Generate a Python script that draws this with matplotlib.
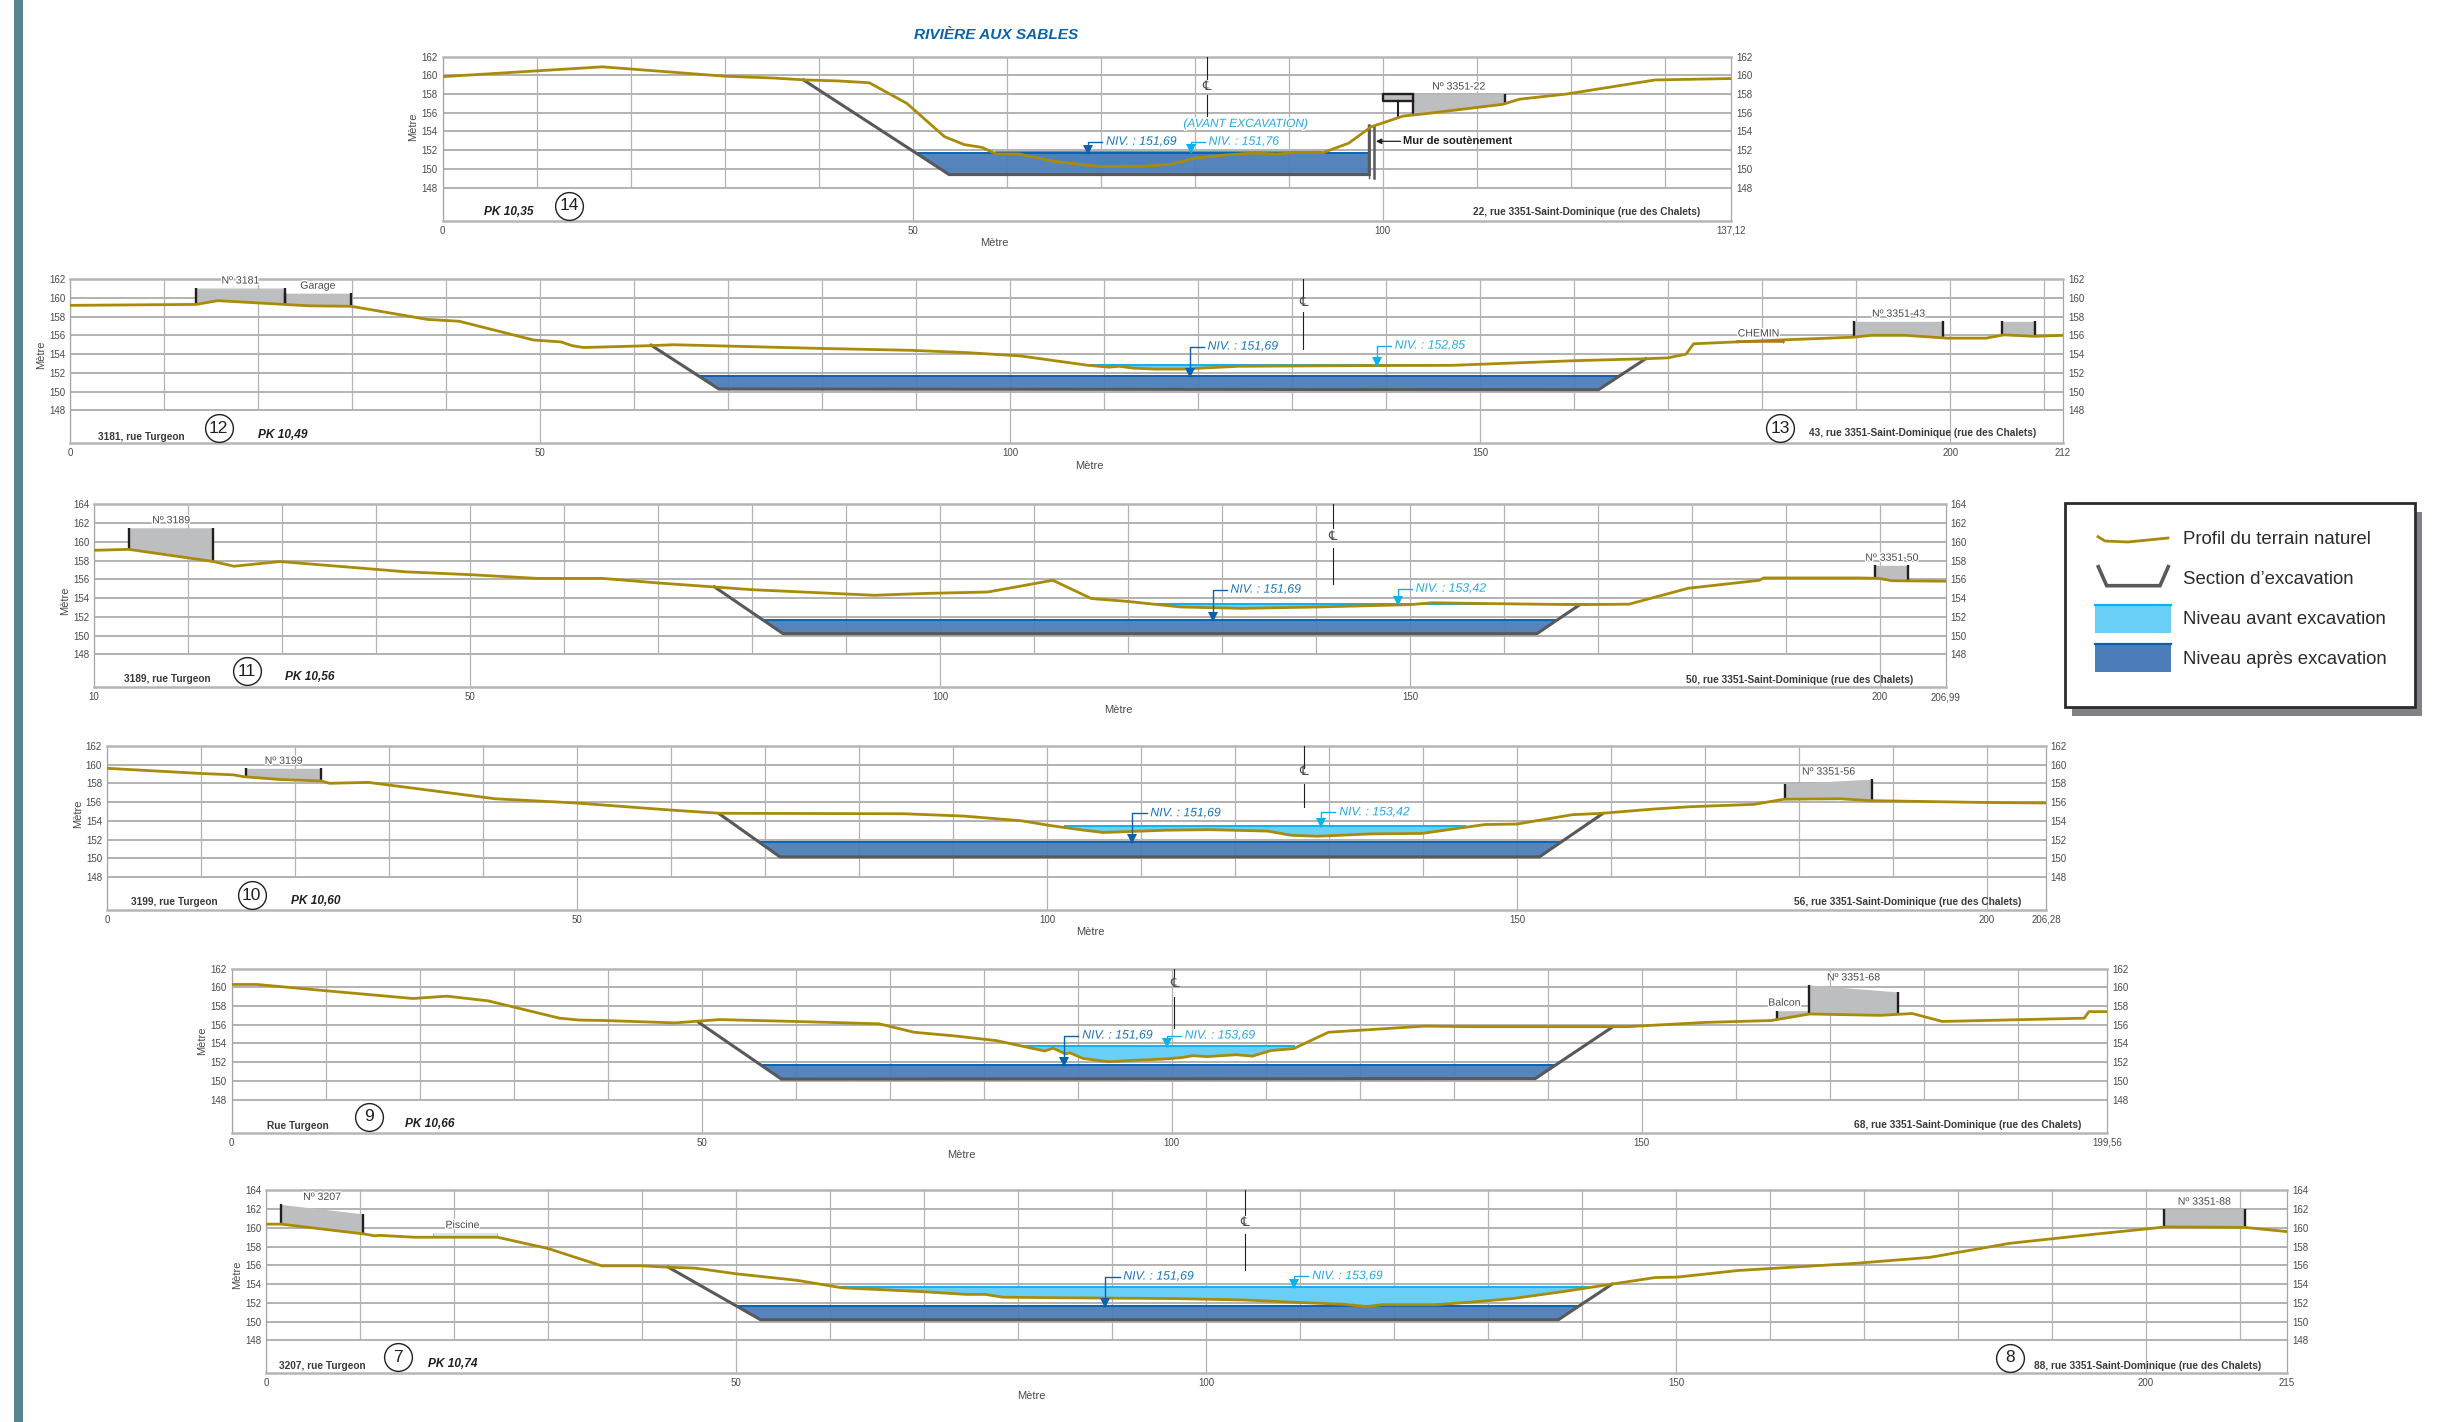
import numpy as np
import matplotlib
matplotlib.use("Agg")
import matplotlib.pyplot as plt
from matplotlib.patches import Rectangle
import matplotlib.patheffects as pe

plt.rcParams['font.family'] = ['Liberation Sans', 'DejaVu Sans']

# PK 10,35 (14)
pk14_x = [0, 17, 30, 35.3, 38.6, 42, 45.4, 49.4, 53.4, 55.5, 57.4, 58.9, 61.3, 65.1, 70, 74.8, 77.5, 80, 83.4, 86.3,
          88.7, 90.7, 93.7, 96.4, 98.8, 102.2, 104.6, 112.8, 114.6, 119.6, 129, 137.12]
pk14_y = [159.85, 160.9, 159.9, 159.7, 159.5, 159.4, 159.2, 157, 153.45, 152.6, 152.3, 151.6, 151.6, 150.8, 150.25,
          150.3, 150.5, 151.15, 151.5, 151.7, 151.6, 151.75, 151.75, 152.75, 154.5, 155.65, 155.9, 156.9, 157.45,
          158, 159.5, 159.65]
pk14_exc_x = [38.4, 53.9, 98.6, 98.6]
pk14_exc_y = [159.5, 149.4, 149.4, 154.6]

# PK 10,49 (12-13)
pk12_x = [0, 13.4, 15.7, 22.8, 25.4, 29.9, 38, 41.4, 49.3, 52.2, 53.4, 54.6, 61.8, 64.2, 80, 89.5, 95.5, 101.1, 108.3,
          110.5, 111.6, 113.1, 115.4, 118.4, 124.3, 134, 147, 160.2, 167.6, 170, 171.9, 172.7, 181.8, 189.6, 191.6,
          195.2, 199.7, 203.8, 205.7, 209, 212]
pk12_y = [159.2, 159.3, 159.7, 159.3, 159.15, 159.1, 157.7, 157.5, 155.5, 155.3, 154.9, 154.7, 154.9, 155, 154.6,
          154.4, 154.15, 153.8, 152.8, 152.6, 152.7, 152.5, 152.4, 152.4, 152.7, 152.75, 152.8, 153.3, 153.5, 153.6,
          154, 155.1, 155.5, 155.8, 156, 156, 155.7, 155.7, 156.05, 155.9, 156]
pk12_exc_x = [61.8, 69, 162.6, 167.6]
pk12_exc_y = [154.95, 150.27, 150.2, 153.5]

# PK 10,56 (11)
pk11_x = [10, 13.7, 22.7, 24.9, 29.8, 39.6, 43.2, 50, 57.2, 64.1, 70.2, 75.8, 79.9, 93, 98.6, 105.1, 112, 116.1, 119.9,
          125.6, 132.1, 140.2, 150, 152.4, 159.2, 168, 173.3, 179.6, 187.2, 187.6, 197.9, 199.9, 201.3, 206.99]
pk11_y = [159.1, 159.2, 157.9, 157.4, 157.9, 157.1, 156.8, 156.5, 156.1, 156.1, 155.6, 155.2, 154.9, 154.3, 154.5,
          154.65, 155.9, 153.95, 153.65, 153.05, 152.9, 153.05, 153.3, 153.5, 153.4, 153.3, 153.35, 155.05, 155.9,
          156.15, 156.15, 156.1, 155.85, 155.8]
pk11_exc_x = [76, 83.3, 163.5, 168]
pk11_exc_y = [155.2, 150.2, 150.2, 153.25]

# PK 10,60 (10)
pk10_x = [0, 10, 13.5, 14.6, 18.5, 22.8, 23.7, 27.8, 41.3, 49.9, 59.9, 65.2, 84.8, 91.2, 97.3, 100.3, 103.9, 106, 112.8,
          117.4, 123.5, 126, 128.8, 134.5, 139.9, 146.6, 150, 155.9, 159.1, 164.5, 168.4, 175.2, 178.4, 184.4, 187.6,
          200.1, 206.28]
pk10_y = [159.6, 159.05, 158.9, 158.7, 158.4, 158.25, 158, 158.1, 156.35, 155.9, 155.15, 154.8, 154.75, 154.5, 154,
          153.5, 153, 152.75, 153, 153.05, 152.9, 152.45, 152.35, 152.6, 152.65, 153.6, 153.65, 154.65, 154.8, 155.25,
          155.5, 155.75, 156.3, 156.35, 156.15, 155.95, 155.9]
pk10_exc_x = [65.2, 71.6, 152.4, 159.1]
pk10_exc_y = [154.7, 150.15, 150.15, 154.75]

# PK 10,66 (9)
pk9_x = [0, 2.7, 9.8, 19.3, 22.9, 27.3, 34.9, 37, 39.7, 47.2, 51.9, 60, 68.9, 72.6, 77, 81.4, 86.5, 87.4, 88.7, 89.2,
         90.6, 93.3, 96, 99.4, 101.1, 102.3, 103.8, 106.9, 108.6, 110.6, 113, 116.7, 126.9, 131.6, 148.6, 156.8,
         163.8, 167.9, 175.4, 178.8, 182, 197.1, 197.6, 199.56]
pk9_y = [160.3, 160.3, 159.65, 158.8, 159.05, 158.55, 156.7, 156.5, 156.45, 156.2, 156.55, 156.35, 156.1, 155.2, 154.8,
         154.3, 153.2, 153.5, 152.9, 153, 152.4, 152.05, 152.2, 152.35, 152.5, 152.7, 152.6, 152.8, 152.65, 153.25,
         153.45, 155.2, 155.85, 155.8, 155.8, 156.25, 156.45, 157.15, 157, 157.2, 156.35, 156.7, 157.4, 157.4]
pk9_exc_x = [49.7, 58.5, 138.7, 146.9]
pk9_exc_y = [156.25, 150.2, 150.25, 155.75]

# PK 10,74 (7-8)
pk7_x = [0, 1.6, 10.4, 11.6, 12.1, 15.8, 24.6, 30, 35.7, 39.9, 42.9, 45.7, 50, 56.5, 61.3, 69.7, 74.5, 76.5, 78.4, 83.3,
         96.9, 104.1, 109.5, 114.6, 117.1, 118.7, 124.4, 127.9, 132.6, 138, 143.2, 147.8, 150.2, 156.6, 168.9, 177,
         185.5, 194.3, 202.1, 210.5, 215]
pk7_y = [160.4, 160.4, 159.35, 159.15, 159.2, 159, 159, 157.8, 155.95, 155.95, 155.8, 155.7, 155.1, 154.4, 153.6, 153.2,
         152.9, 152.9, 152.6, 152.55, 152.45, 152.3, 152.05, 151.85, 151.6, 151.8, 151.8, 152.05, 152.45, 153.2, 154,
         154.7, 154.75, 155.45, 156.2, 156.85, 158.35, 159.3, 160.1, 160.05, 159.6]
pk7_exc_x = [42.8, 52.6, 137.5, 143.2]
pk7_exc_y = [155.8, 150.2, 150.2, 154]

# niveaux
niv_apres = 151.69
niv_avant = [151.76, 152.85, 153.42, 153.42, 153.69, 153.69]

# (gauche, droite, haut gauche, haut droite, nom)
pk14_houses = [(103.2, 113, 158, 158, "Nº 3351-22")]
pk12_houses = [(13.4, 22.8, 161.05, 161.05, "Nº 3181"), (22.8, 29.9, 160.5, 160.5, "Garage"),
               (189.8, 199.2, 157.5, 157.5, "Nº 3351-43"), (205.5, 209, 157.5, 157.5, "")]
pk11_houses = [(13.7, 22.7, 161.5, 161.5, "Nº 3189"), (199.5, 203, 157.5, 157.5, "Nº 3351-50")]
pk10_houses = [(14.8, 22.8, 159.6, 159.6, "Nº 3199"), (178.5, 187.8, 157.95, 158.45, "Nº 3351-56")]
pk9_houses = [(167.8, 177.3, 160.25, 159.5, "Nº 3351-68")]
pk7_houses = [(1.6, 10.3, 162.5, 161.5, "Nº 3207"), (201.9, 210.5, 162, 162, "Nº 3351-88")]

C_TERRAIN = '#a98b0a'
C_EXC = '#58595b'
C_AVANT = '#69cff7'
C_AVANT_L = '#0db1ee'
C_APRES = '#4d7db9'
C_APRES_L = '#0b62ac'
C_HOUSE = '#bcbec0'
C_TXT = '#4a4a4c'

W, H = 2452, 1422
PX_X = 9.4
PX_Y = 9.37

fig = plt.figure(figsize=(W / 100, H / 100), dpi=100, facecolor='white')

over = fig.add_axes([0, 0, 1, 1], zorder=0)
over.set_xlim(0, W)
over.set_ylim(H, 0)
over.axis('off')


def halo(t):
    t.set_path_effects([pe.withStroke(linewidth=2, foreground='white')])
    return t


def panel(x0_px, y148_px, xmin, xmax, ytop, xticks, x, y, exc_x, exc_y, level, lev_from, lev_to, ylab_y, xlab_x):
    left = x0_px
    bottom = y148_px + 33
    top = y148_px - (ytop - 148) * PX_Y
    width = (xmax - xmin) * PX_X
    ax = fig.add_axes([left / W, 1 - bottom / H, width / W, (bottom - top) / H], zorder=2)
    ax.patch.set_alpha(0)
    ax.set_xlim(xmin, xmax)
    ax.set_ylim(148 - 33 / PX_Y, ytop)

    yticks = np.arange(148, ytop + 1, 2)
    ax.hlines(yticks, xmin, xmax, color='#adadad', lw=1.3, zorder=1)
    for v in np.arange(np.ceil(xmin / 10) * 10, xmax, 10):
        y0 = ax.get_ylim()[0] if v % 50 == 0 else 148
        ax.vlines(v, y0, ytop, color='#b3b3b3', lw=0.9, zorder=1)

    for s in ['left', 'right']:
        ax.spines[s].set_color('#a6a6a6')
        ax.spines[s].set_linewidth(0.9)
    for s in ['top', 'bottom']:
        ax.spines[s].set_color('#b5b5b5')
        ax.spines[s].set_linewidth(1.8)

    ax.set_yticks(yticks)
    ax.set_yticklabels([str(v) for v in yticks])
    ax.set_xticks(xticks)
    ax.set_xticklabels([str(v).replace('.', ',') for v in xticks])
    ax.tick_params(axis='both', length=0, labelsize=7, labelcolor=C_TXT, pad=3.5,
                   labelleft=True, labelright=True)

    # eau avant excavation
    xa = np.array(x, dtype=float)
    ya = np.array(y, dtype=float)
    mask = (xa >= lev_from) & (xa <= lev_to)
    xs = np.r_[lev_from, xa[mask], lev_to]
    ys = np.interp(xs, xa, ya)
    ax.fill_between(xs, ys, level, where=ys <= level, interpolate=True, color=C_AVANT, lw=0, zorder=1.5)
    ax.plot([lev_from, lev_to], [level, level], color=C_AVANT_L, lw=1.4, zorder=1.6)

    # eau apres excavation
    xl = exc_x[0] + (exc_x[1] - exc_x[0]) * (exc_y[0] - niv_apres) / (exc_y[0] - exc_y[1])
    xr = exc_x[2] + (exc_x[3] - exc_x[2]) * (niv_apres - exc_y[2]) / (exc_y[3] - exc_y[2])
    ax.fill_between([xl, exc_x[1], exc_x[2], xr], [niv_apres, exc_y[1], exc_y[2], niv_apres], niv_apres,
                    color=C_APRES, alpha=0.95, lw=0, zorder=2)
    ax.plot([xl, xr], [niv_apres, niv_apres], color=C_APRES_L, lw=1.4, zorder=2.1)
    ax.plot(exc_x, exc_y, color=C_EXC, lw=2.2, solid_joinstyle='miter', zorder=3)

    ax.plot(x, y, color=C_TERRAIN, lw=2, zorder=4)

    ax.annotate('Mètre', xy=(xmin, ylab_y), xytext=(-21, 0), textcoords='offset points', rotation=90,
                fontsize=8, color=C_TXT, ha='center', va='center', annotation_clip=False)
    ax.annotate('Mètre', xy=(xlab_x, ax.get_ylim()[0]), xytext=(0, -16), textcoords='offset points',
                fontsize=8, color=C_TXT, ha='center', va='center', annotation_clip=False)
    return ax


def houses(ax, x, y, items):
    for xl, xr, tl, tr, name in items:
        xa = np.array(x, dtype=float)
        xs = np.r_[xl, xa[(xa > xl) & (xa < xr)], xr]
        base = np.interp(xs, x, y)
        roof = np.interp(xs, [xl, xr], [tl, tr])
        ax.fill_between(xs, base, roof, color=C_HOUSE, lw=0, zorder=2.5)
        ax.vlines([xl, xr], [base[0], base[-1]], [tl, tr], color='#231f20', lw=1.7, zorder=3.5)
        if name:
            halo(ax.text((xl + xr) / 2, max(tl, tr) + 0.8, name, fontsize=7.6, color=C_TXT,
                         ha='center', va='center', zorder=6))


def niveau(ax, x_ap, x_av, y_txt_ap, y_txt_av, level):
    for xv, yt, lev, col, tcol in [(x_ap, y_txt_ap, niv_apres, C_APRES_L, '#1b75bb'),
                                   (x_av, y_txt_av, level, C_AVANT_L, '#27aae1')]:
        ax.plot([xv, xv, xv + 1.5], [lev, yt, yt], color=col, lw=1.0, zorder=5)
        ax.plot([xv], [lev + 0.32], marker='v', ms=6.5, color=col, mew=0, zorder=5)
        halo(ax.text(xv + 1.9, yt, 'NIV. : ' + f'{lev:.2f}'.replace('.', ','), fontsize=8.8, style='italic',
                     color=tcol, ha='left', va='center', zorder=6))


def axe_centre(ax, xv, seg1, seg2, y_lab):
    ax.plot([xv, xv], seg1, color='#231f20', lw=0.8, zorder=5)
    ax.plot([xv, xv], seg2, color='#231f20', lw=0.8, zorder=5)
    ax.text(xv, y_lab, '℄', fontsize=9.5, color='#4a4a4c', ha='center', va='center', zorder=6)


def rond(ax, xv, yv, txt):
    ax.plot([xv], [yv], marker='o', ms=20, mfc='white', mec='#231f20', mew=1, zorder=6)
    ax.text(xv, yv, txt, fontsize=12.5, color='#231f20', ha='center', va='center', zorder=7)


def adresse(ax, xv, yv, txt):
    ax.text(xv, yv, txt, fontsize=7.25, fontweight='bold', color='#3a3a3c', ha='center', va='center', zorder=6)


def pk(ax, xv, yv, txt):
    ax.text(xv, yv, txt, fontsize=8.6, fontweight='bold', style='italic', color='#231f20',
            ha='center', va='center', zorder=6)


# barre a gauche et titre
over.add_patch(Rectangle((14, 0), 8.5, H, color='#56878f', lw=0))
over.text(996, 35, 'RIVIÈRE AUX SABLES', fontsize=11.1, fontweight='bold', style='italic', color='#0b62ac',
          ha='center', va='center')

# --- 14
ax = panel(442.5, 187.7, 0, 137.12, 162, [0, 50, 100, 137.12], pk14_x, pk14_y, pk14_exc_x, pk14_exc_y,
           niv_avant[0], 58.9, 93.5, 154.5, 58.7)
houses(ax, pk14_x, pk14_y, pk14_houses)
ax.add_patch(Rectangle((100, 157.2), 3.2, 0.8, color=C_HOUSE, lw=0, zorder=2.5))
ax.plot([103.2, 100, 100, 103.2], [158, 158, 157.2, 157.2], color='#231f20', lw=1.7, zorder=3.5)
ax.plot([101.6, 101.6], [157.2, 155.6], color='#231f20', lw=1.5, zorder=3.5)
ax.plot([99.1, 99.1], [149, 154.6], color=C_EXC, lw=1.8, zorder=3.5)
ax.plot([98.6, 98.6], [149, 154.6], color=C_EXC, lw=1, zorder=3.5)
niveau(ax, 68.7, 79.6, 152.9, 152.9, niv_avant[0])
axe_centre(ax, 81.3, [162, 159.6], [157.9, 155.6], 158.7)
halo(ax.text(85.4, 154.8, '(AVANT EXCAVATION)', fontsize=8.6, style='italic', color='#27aae1',
             ha='center', va='center', zorder=6))
ax.annotate('Mur de soutènement', xy=(99.3, 152.95), xytext=(102.2, 152.95), fontsize=8, fontweight='bold',
            color='#231f20', va='center', zorder=6,
            arrowprops=dict(arrowstyle='-|>', color='#231f20', lw=0.9, shrinkA=0, shrinkB=0))
rond(ax, 13.5, 146.1, '14')
pk(ax, 7.1, 145.4, 'PK 10,35')
adresse(ax, 121.7, 145.45, '22, rue 3351-Saint-Dominique (rue des Chalets)')

# --- 12 / 13
ax = panel(70.2, 410.3, 0, 212, 162, [0, 50, 100, 150, 200, 212], pk12_x, pk12_y, pk12_exc_x, pk12_exc_y,
           niv_avant[1], 108, 147, 153.9, 108.4)
houses(ax, pk12_x, pk12_y, pk12_houses)
niveau(ax, 119.1, 139, 154.8, 154.9, niv_avant[1])
axe_centre(ax, 131.2, [162, 160], [158.5, 154.5], 159.5)
ax.plot([177.3, 182.2], [155.4, 155.4], color='#b5761c', lw=1.8, zorder=4.5)
ax.vlines([177.3, 182.2], 155.2, 155.5, color='#b5761c', lw=0.8, zorder=4.5)
halo(ax.text(179.6, 156.2, 'CHEMIN', fontsize=7.6, color=C_TXT, ha='center', va='center', zorder=6))
rond(ax, 15.8, 146.1, '12')
rond(ax, 181.9, 146.1, '13')
adresse(ax, 7.6, 145.2, '3181, rue Turgeon')
pk(ax, 22.6, 145.4, 'PK 10,49')
adresse(ax, 197.1, 145.55, '43, rue 3351-Saint-Dominique (rue des Chalets)')

# --- 11
ax = panel(94, 654.3, 10, 206.99, 164, [10, 50, 100, 150, 200, 206.99], pk11_x, pk11_y, pk11_exc_x, pk11_exc_y,
           niv_avant[2], 122, 173, 153.75, 119)
houses(ax, pk11_x, pk11_y, pk11_houses)
niveau(ax, 129, 148.7, 154.9, 155, niv_avant[2])
axe_centre(ax, 141.8, [164, 161.5], [159.3, 155.5], 160.5)
rond(ax, 26.3, 146.2, '11')
adresse(ax, 17.8, 145.4, '3189, rue Turgeon')
pk(ax, 32.9, 145.6, 'PK 10,56')
adresse(ax, 191.5, 145.3, '50, rue 3351-Saint-Dominique (rue des Chalets)')

# --- 10
ax = panel(106.9, 877, 0, 206.28, 162, [0, 50, 100, 150, 200, 206.28], pk10_x, pk10_y, pk10_exc_x, pk10_exc_y,
           niv_avant[3], 101.9, 144.5, 154.8, 104.6)
houses(ax, pk10_x, pk10_y, pk10_houses)
niveau(ax, 109.1, 129.2, 154.8, 154.9, niv_avant[3])
axe_centre(ax, 127.3, [162, 159.65], [157.95, 155.45], 159.2)
rond(ax, 15.4, 146.05, '10')
adresse(ax, 7.2, 145.3, '3199, rue Turgeon')
pk(ax, 22.2, 145.4, 'PK 10,60')
adresse(ax, 191.6, 145.3, '56, rue 3351-Saint-Dominique (rue des Chalets)')

# --- 9
ax = panel(231.5, 1099.7, 0, 199.56, 162, [0, 50, 100, 150, 199.56], pk9_x, pk9_y, pk9_exc_x, pk9_exc_y,
           niv_avant[4], 84.1, 113, 154.3, 77.6)
houses(ax, pk9_x, pk9_y, pk9_houses)
ax.fill_between([164.4, 167.8], [156.6, 157.15], 157.5, color=C_HOUSE, lw=0, zorder=2.5)
ax.vlines(164.4, 156.6, 157.5, color='#231f20', lw=1.7, zorder=3.5)
halo(ax.text(165.2, 158.35, 'Balcon', fontsize=7.6, color=C_TXT, ha='center', va='center', zorder=6))
niveau(ax, 88.6, 99.5, 154.85, 154.85, niv_avant[4])
axe_centre(ax, 100.3, [162, 161.05], [159, 155.65], 160.3)
rond(ax, 14.6, 146.2, '9')
adresse(ax, 7.1, 145.15, 'Rue Turgeon')
pk(ax, 21.1, 145.4, 'PK 10,66')
adresse(ax, 184.7, 145.25, '68, rue 3351-Saint-Dominique (rue des Chalets)')

# --- 7 / 8
ax = panel(266, 1340.3, 0, 215, 164, [0, 50, 100, 150, 200, 215], pk7_x, pk7_y, pk7_exc_x, pk7_exc_y,
           niv_avant[5], 61.3, 140.7, 155, 81.4)
houses(ax, pk7_x, pk7_y, pk7_houses)
ax.fill_between([17.8, 24.6], 159, 159.5, color='#d6e6f5', lw=0, zorder=2.5)
ax.vlines([17.8, 24.6], 159, 159.5, color='#b3b3b3', lw=0.8, zorder=2.6)
halo(ax.text(20.9, 160.3, 'Piscine', fontsize=7.6, color=C_TXT, ha='center', va='center', zorder=6))
niveau(ax, 89.3, 109.4, 154.8, 154.85, niv_avant[5])
axe_centre(ax, 104.1, [164, 161.4], [159.35, 155.5], 160.55)
rond(ax, 14, 146.2, '7')
rond(ax, 185.5, 146.15, '8')
adresse(ax, 6, 145.3, '3207, rue Turgeon')
pk(ax, 19.9, 145.5, 'PK 10,74')
adresse(ax, 200.2, 145.3, '88, rue 3351-Saint-Dominique (rue des Chalets)')

# --- legende
over.add_patch(Rectangle((2072, 512), 350, 204, color='#808285', lw=0, zorder=1))
over.add_patch(Rectangle((2065, 503), 350, 204, fc='white', ec='#2b2b2d', lw=2, zorder=2))
over.plot([2098, 2105, 2128, 2168], [536.7, 541, 542, 538], color=C_TERRAIN, lw=2, zorder=3)
over.plot([2098.3, 2106.7, 2160, 2168.3], [566.7, 585.7, 585.7, 566.7], color=C_EXC, lw=2.6,
          solid_joinstyle='miter', zorder=3)
over.add_patch(Rectangle((2095, 604), 76, 29, color=C_AVANT, lw=0, zorder=3))
over.plot([2095, 2171], [605, 605], color=C_AVANT_L, lw=1.6, zorder=4)
over.add_patch(Rectangle((2095, 643), 76, 29, color=C_APRES, lw=0, zorder=3))
over.plot([2095, 2171], [644, 644], color=C_APRES_L, lw=1.6, zorder=4)
for ty, txt in zip([540, 580, 620, 660], ['Profil du terrain naturel', 'Section d’excavation',
                                          'Niveau avant excavation', 'Niveau après excavation']):
    over.text(2183, ty, txt, fontsize=13.4, color='#2b2b2d', ha='left', va='center', zorder=4)

fig.savefig('out.png', dpi=100)
